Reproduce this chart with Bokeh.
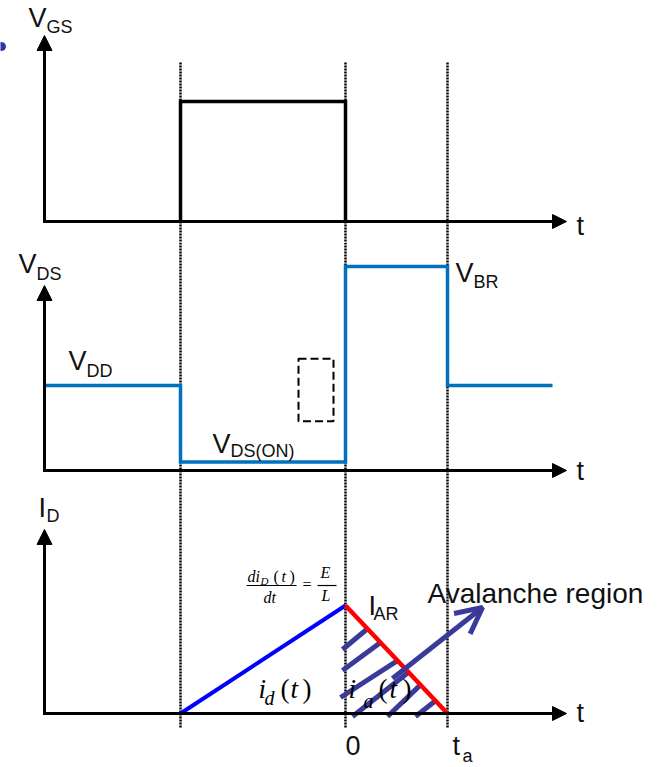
from bokeh.plotting import figure
from bokeh.layouts import column
from bokeh.models import Range1d, Arrow, NormalHead, OpenHead
from bokeh.core.properties import value
from bokeh.embed import file_html
from bokeh.resources import INLINE

# ---- timing (arbitrary units, t = 0 at gate turn-off) ----
T_AXIS = -301   # origin of every time axis
T_ON = -165     # gate switched on
T_OFF = 0       # gate switched off, avalanche starts
T_A = 102       # avalanche ends (t_a)
T_END = 207     # last drawn V_DS sample
T_TIP = 221     # tip of the time-axis arrows

# gate-source voltage (normalised)
vgs_t = [T_ON, T_ON, T_OFF, T_OFF]
vgs_v = [0, 1, 1, 0]

# drain-source voltage (normalised to V_DD)
VDD, VDS_ON, VBR = 1.0, 0.1, 2.4
vds_t = [T_AXIS, T_ON, T_ON, T_OFF, T_OFF, T_A, T_A, T_END]
vds_v = [VDD, VDD, VDS_ON, VDS_ON, VBR, VBR, VDD, VDD]

# drain current (normalised to I_AR)
IAR = 1.0
id_rise_t = [T_ON, T_OFF]
id_rise_i = [0, IAR]
id_fall_t = [T_OFF, T_A]
id_fall_i = [IAR, 0]

# hatch strokes filling the avalanche-current triangle
hatch_t0 = [-3, -3, -5, 7, 42, 70]
hatch_i0 = [0.593, 0.398, 0.148, -0.028, -0.028, -0.028]
hatch_t1 = [22, 35, 52, 63, 75, 90]
hatch_i1 = [IAR * (T_A - t) / (T_A - T_OFF) for t in hatch_t1]

# dashed marker box on the V_DS trace
box_t = [-47, -12]
box_v = [0.58, 1.315]

# "Avalanche region" pointer
aval_t = [47, 137]
aval_i = [0.324, 0.981]

BLACK = "black"
VDS_BLUE = "#0070C0"
RAMP_BLUE = "#0000FF"
RED = "#FF0000"
NAVY = "#3A3A9A"
SANS = "Liberation Sans"
SERIF = "Liberation Serif"

W = 662
UNIT = {}   # pixels per amplitude unit of each panel


def panel(height, axis_px, unit_px):
    p = figure(width=W, height=height,
               x_range=Range1d(-345, W - 345),
               y_range=Range1d(-(height - axis_px) / unit_px, axis_px / unit_px),
               toolbar_location=None, output_backend="svg",
               x_axis_type=None, y_axis_type=None,
               min_border=0, outline_line_color=None)
    p.grid.visible = False
    UNIT[p.id] = unit_px
    return p


def axes(p, y_tip):
    p.add_layout(Arrow(end=NormalHead(size=15, fill_color=BLACK, line_color=BLACK),
                       x_start=T_AXIS, y_start=0, x_end=T_AXIS, y_end=y_tip,
                       line_width=3, line_color=BLACK))
    p.add_layout(Arrow(end=NormalHead(size=14, fill_color=BLACK, line_color=BLACK),
                       x_start=T_AXIS - 1.5, y_start=0, x_end=T_TIP, y_end=0,
                       line_width=3, line_color=BLACK))


def dotted(p, top, bottom):
    for t in (T_ON, T_OFF, T_A):
        p.line(x=[t, t], y=[top, bottom], line_color=BLACK,
               line_width=2.5, line_dash="2 1")


def label(p, x, y, txt, size, font=SANS, style="normal", color="#111111"):
    # lift the text so that its baseline sits on y
    y = y + 0.36 * size / UNIT[p.id]
    p.text(x=[x], y=[y], text=[txt], text_font=value(font),
           text_font_size=f"{size}px", text_font_style=style,
           text_color=color, text_baseline="alphabetic", text_align="left")


# ---------------- V_GS ----------------
p1 = panel(242, 221, 120)
dotted(p1, 1.325, p1.y_range.start)
p1.line(vgs_t, vgs_v, line_color=BLACK, line_width=3.5, line_join="miter")
axes(p1, 1.55)
p1.scatter(x=[-344], y=[1.458], size=8, color="#3333AA")
label(p1, -317, 1.617, "V", 27)
label(p1, -299, 1.567, "GS", 18)
label(p1, 231, -0.117, "t", 27)

# ---------------- V_DS ----------------
p2 = panel(246, 228, 85)
dotted(p2, p2.y_range.end, p2.y_range.start)
p2.quad(left=[box_t[0]], right=[box_t[1]], bottom=[box_v[0]], top=[box_v[1]],
        fill_color=None, line_color=BLACK, line_width=2, line_dash="8 4")
p2.line(vds_t, vds_v, line_color=VDS_BLUE, line_width=3.5, line_join="miter")
axes(p2, 2.176)
label(p2, -327, 2.318, "V", 27)
label(p2, -309, 2.235, "DS", 18)
label(p2, -277, 1.176, "V", 27)
label(p2, -259, 1.094, "DD", 18)
label(p2, -133, 0.2, "V", 27)
label(p2, -115, 0.153, "DS(ON)", 18)
label(p2, 110, 2.212, "V", 27)
label(p2, 128, 2.141, "BR", 18)
label(p2, 231, -0.118, "t", 27)

# ---------------- I_D ----------------
p3 = panel(279, 225, 108)
dotted(p3, p3.y_range.end, -0.139)
p3.segment(x0=hatch_t0, y0=hatch_i0, x1=hatch_t1, y1=hatch_i1,
           line_color=NAVY, line_width=5)
p3.line(id_rise_t, id_rise_i, line_color=RAMP_BLUE, line_width=4)
p3.line(id_fall_t, id_fall_i, line_color=RED, line_width=4.5)
axes(p3, 1.704)
p3.add_layout(Arrow(end=OpenHead(size=26, line_width=5, line_color=NAVY),
                    x_start=aval_t[0], y_start=aval_i[0],
                    x_end=aval_t[1], y_end=aval_i[1],
                    line_width=5, line_color=NAVY))

label(p3, -307, 1.815, "I", 27)
label(p3, -299, 1.769, "D", 18)
label(p3, 23, 0.907, "I", 27)
label(p3, 28, 0.861, "AR", 18)
label(p3, 82, 1.0185, "Avalanche region", 28)
label(p3, 0, -0.389, "0", 27)
label(p3, 107, -0.39, "t", 27)
label(p3, 117, -0.455, "a", 18)
label(p3, 231, -0.083, "t", 27)

# i_d(t)
label(p3, -87, 0.139, "i", 27, SERIF, "italic", BLACK)
label(p3, -81, 0.074, "d", 20, SERIF, "italic", BLACK)
label(p3, -65, 0.139, "(", 27, SERIF, "normal", BLACK)
label(p3, -55, 0.139, "t", 27, SERIF, "italic", BLACK)
label(p3, -43, 0.139, ")", 27, SERIF, "normal", BLACK)

# i_a(t)
label(p3, 3, 0.139, "i", 27, SERIF, "italic", BLACK)
label(p3, 18, 0.046, "a", 20, SERIF, "italic", BLACK)
label(p3, 33, 0.139, "(", 27, SERIF, "normal", BLACK)
label(p3, 44, 0.139, "t", 27, SERIF, "italic", BLACK)
label(p3, 57, 0.139, ")", 27, SERIF, "normal", BLACK)

# di_D(t)/dt = E/L
label(p3, -98, 1.213, "di", 16, SERIF, "italic", BLACK)
label(p3, -85, 1.194, "D", 11, SERIF, "italic", BLACK)
label(p3, -72, 1.213, "(", 16, SERIF, "normal", BLACK)
label(p3, -64, 1.213, "t", 16, SERIF, "italic", BLACK)
label(p3, -56, 1.213, ")", 16, SERIF, "normal", BLACK)
label(p3, -82, 1.019, "dt", 16, SERIF, "italic", BLACK)
label(p3, -43, 1.139, "=", 16, SERIF, "normal", BLACK)
label(p3, -25, 1.25, "E", 16, SERIF, "italic", BLACK)
label(p3, -24, 1.037, "L", 16, SERIF, "italic", BLACK)
p3.segment(x0=[-99, -28], y0=[1.185, 1.185], x1=[-49, -9], y1=[1.185, 1.185],
           line_color=BLACK, line_width=1.2)

layout = column(p1, p2, p3)
open("out.html", "w").write(file_html(layout, INLINE))
